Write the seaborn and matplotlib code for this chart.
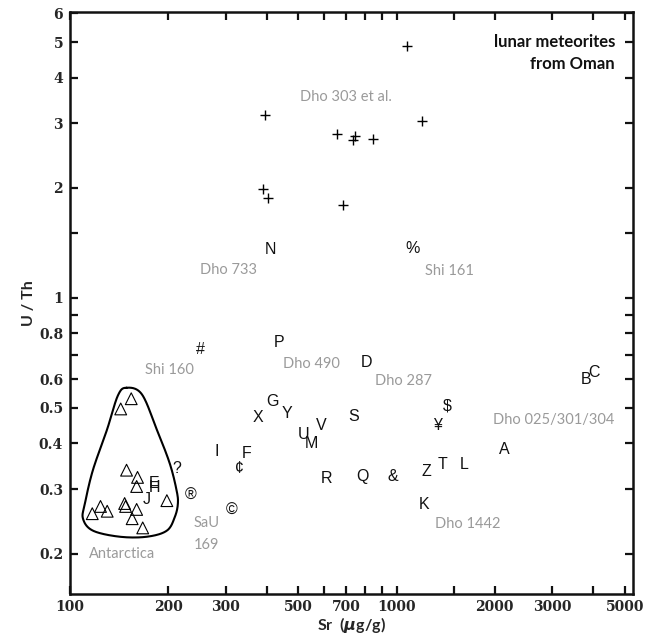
import numpy as np
import pandas as pd
import matplotlib
matplotlib.use("Agg")
import matplotlib.pyplot as plt
import seaborn as sns
from matplotlib.ticker import NullLocator

# ---------------- data ----------------
plus_sr = [1073, 395, 1193, 655, 744, 734, 850, 389, 403, 684]
plus_uth = [4.88, 3.17, 3.05, 2.81, 2.78, 2.71, 2.72, 1.98, 1.87, 1.80]

tri_sr = [154, 143, 149, 161, 160, 198, 147, 148, 160, 155, 167, 117, 124, 130]
tri_uth = [0.530, 0.497, 0.338, 0.323, 0.305, 0.279, 0.274, 0.269, 0.264,
           0.249, 0.235, 0.257, 0.269, 0.261]

sym_labels = ["N", "%", "#", "P", "D", "B", "C", "G", "X", "Y", "S", "$", "¥",
              "U", "V", "M", "I", "F", "¢", "A", "Z", "T", "L", "R", "Q", "&",
              "K", "?", "®", "©", "J", "E", "H"]
sym_sr = [412, 1119, 250, 436, 809, 3810, 4032, 418, 376, 461, 739, 1432, 1335,
          520, 590, 550, 281, 348, 331, 2138, 1235, 1382, 1614, 611, 787, 972,
          1218, 212, 234, 313, 172, 181, 182]
sym_uth = [1.356, 1.365, 0.724, 0.756, 0.666, 0.598, 0.626, 0.520, 0.470, 0.482,
           0.473, 0.507, 0.447, 0.422, 0.447, 0.399, 0.381, 0.376, 0.342, 0.386,
           0.336, 0.351, 0.351, 0.321, 0.325, 0.325, 0.272, 0.342, 0.288, 0.262,
           0.281, 0.311, 0.303]

name_labels = ["Dho 303 et al.", "Dho 733", "Shi 161", "Shi 160", "Dho 490",
               "Dho 287", "Dho 025/301/304", "Dho 1442", "SaU", "169", "Antarctica"]
name_sr = [700, 306, 1452, 202, 550, 1050, 3040, 1649, 262, 262, 144]
name_uth = [3.55, 1.19, 1.187, 0.637, 0.658, 0.594, 0.464, 0.2415, 0.243, 0.211, 0.200]

hull_sr = [149, 166, 184.5, 202, 212, 214, 209.5, 198, 172, 142, 117.5, 109.6,
           111.1, 117.5, 129.8, 140.2]
hull_uth = [0.568, 0.545, 0.436, 0.353, 0.298, 0.274, 0.252, 0.231, 0.2223,
            0.2223, 0.231, 0.249, 0.274, 0.338, 0.436, 0.541]

x_ticks = [100, 200, 300, 400, 500, 600, 700, 800, 900, 1000, 1500, 2000, 3000, 4000, 5000]
x_tick_labels = ["100", "200", "300", "", "500", "", "700", "", "", "1000", "",
                 "2000", "3000", "", "5000"]
y_ticks = [0.2, 0.3, 0.4, 0.5, 0.6, 0.7, 0.8, 0.9, 1, 1.5, 2, 3, 4, 5, 6]
y_tick_labels = ["0.2", "0.3", "0.4", "0.5", "0.6", "", "0.8", "", "1", "",
                 "2", "3", "4", "5", "6"]

title_text = "lunar meteorites\nfrom Oman"
x_label = r"Sr  ($\mathit{\mu}$g/g)"
y_label = "U / Th"

# ---------------- style ----------------
sns.set_style("ticks")
plt.rcParams["font.family"] = ["Lato", "DejaVu Sans"]
plt.rcParams["mathtext.fontset"] = "custom"
plt.rcParams["mathtext.it"] = "DejaVu Sans:italic:bold"
plt.rcParams["mathtext.rm"] = "Lato:bold"

GRAY = "#9a9a9a"

fig = plt.figure(figsize=(6.51, 6.36), dpi=100)
ax = fig.add_axes([70 / 651, 1 - 594 / 636, 563 / 651, 582 / 636])

ax.set_xscale("log")
ax.set_yscale("log")


def catmull_rom_closed(px, py, n=24):
    P = np.column_stack([px, py])
    N = len(P)
    segs = []
    t = np.linspace(0, 1, n, endpoint=False)[:, None]
    for i in range(N):
        p0, p1, p2, p3 = P[i - 1], P[i], P[(i + 1) % N], P[(i + 2) % N]
        seg = 0.5 * ((2 * p1) + (-p0 + p2) * t + (2 * p0 - 5 * p1 + 4 * p2 - p3) * t ** 2
                     + (-p0 + 3 * p1 - 3 * p2 + p3) * t ** 3)
        segs.append(seg)
    out = np.vstack(segs + [segs[0][:1]])
    return out[:, 0], out[:, 1]


hx, hy = catmull_rom_closed(np.log10(hull_sr), np.log10(hull_uth))
hull_df = pd.DataFrame({"Sr": 10 ** hx, "UTh": 10 ** hy})
sns.lineplot(data=hull_df, x="Sr", y="UTh", sort=False, estimator=None,
             color="black", linewidth=1.5, ax=ax)

plus_df = pd.DataFrame({"Sr": plus_sr, "UTh": plus_uth})
sns.scatterplot(data=plus_df, x="Sr", y="UTh", marker="+", s=50, color="black",
                linewidth=1.0, ax=ax)

tri_df = pd.DataFrame({"Sr": tri_sr, "UTh": tri_uth})
sns.scatterplot(data=tri_df, x="Sr", y="UTh", marker="^", s=72, color="black",
                linewidth=0.8, ax=ax)
coll = ax.collections[-1]
coll.set_facecolor("none")
coll.set_edgecolor("black")

for lab, sx, sy in zip(sym_labels, sym_sr, sym_uth):
    ax.text(sx, sy, lab, ha="center", va="center", fontsize=11.5,
            family=["Liberation Sans", "DejaVu Sans"], color="#111111")

for lab, sx, sy in zip(name_labels, name_sr, name_uth):
    ax.text(sx, sy, lab, ha="center", va="center", fontsize=10.5, color=GRAY)

ax.text(0.968, 0.93, title_text, transform=ax.transAxes, ha="right", va="center",
        fontsize=12, fontweight="bold", linespacing=1.45, color="#111111")

ax.set_xlim(100, 5300)
ax.set_ylim(0.155, 6.05)

ax.xaxis.set_minor_locator(NullLocator())
ax.yaxis.set_minor_locator(NullLocator())
ax.set_xticks(x_ticks)
ax.set_xticklabels(x_tick_labels)
ax.set_yticks(y_ticks)
ax.set_yticklabels(y_tick_labels)
for t in ax.get_xticklabels() + ax.get_yticklabels():
    t.set_family("DejaVu Serif")
    t.set_fontweight("bold")
    t.set_fontsize(10)

ax.tick_params(which="both", direction="in", top=True, right=True, length=6,
               width=1.6, color="#111111")
ax.tick_params(axis="x", pad=4)
ax.tick_params(axis="y", pad=5)
for sp in ax.spines.values():
    sp.set_linewidth(1.8)
    sp.set_color("#111111")

ax.set_xlabel(x_label, fontsize=11.5, fontweight="bold", labelpad=1)
ax.set_ylabel(y_label, fontsize=11.5, fontweight="bold", labelpad=2)

fig.savefig("out.png", dpi=100)
